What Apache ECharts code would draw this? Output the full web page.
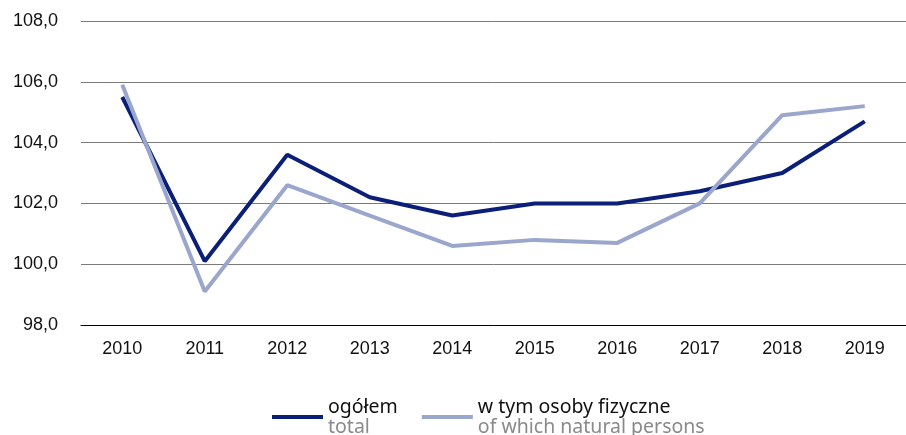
<!DOCTYPE html>
<html><head><meta charset="utf-8">
<script src="https://cdn.jsdelivr.net/npm/echarts@6/dist/echarts.min.js"></script>
<style>html,body{margin:0;padding:0;background:#fff}#c{width:906px;height:435px}</style>
</head><body><div id="c"></div>
<script>
const years = ['2010','2011','2012','2013','2014','2015','2016','2017','2018','2019'];
const total = [105.5, 100.1, 103.6, 102.2, 101.6, 102.0, 102.0, 102.4, 103.0, 104.7];
const naturalPersons = [105.9, 99.1, 102.6, 101.6, 100.6, 100.8, 100.7, 102.0, 104.9, 105.2];
const legendPl = ['ogółem', 'w tym osoby fizyczne'];
const legendEn = ['total', 'of which natural persons'];

const chart = echarts.init(document.getElementById('c'), null, {renderer:'canvas'});
chart.setOption({
  animation:false,
  grid:{left:81, top:21, width:833, height:304, containLabel:false},
  xAxis:{type:'category', data:years, boundaryGap:true,
    axisLine:{show:true, lineStyle:{color:'#000', width:1}},
    axisTick:{show:false},
    axisLabel:{color:'#111', fontSize:18, fontFamily:'Liberation Sans, Arial, sans-serif', margin:15}},
  yAxis:{type:'value', min:98, max:108, interval:2,
    axisLine:{show:false}, axisTick:{show:false},
    splitLine:{lineStyle:{color:'#7a7a7a', width:1}},
    axisLabel:{color:'#111', fontSize:18, fontFamily:'Liberation Sans, Arial, sans-serif', margin:23,
      formatter:v=>v.toFixed(1).replace('.',',')}},
  legend:{top:397, left:272, padding:0, itemWidth:51, itemHeight:4, itemGap:24,
    icon:'rect',
    data:legendPl,
    formatter:name=>{const i=legendPl.indexOf(name);return '{a|'+name+'}\n{b|'+legendEn[i]+'}';},
    textStyle:{rich:{
      a:{fontSize:19.5, color:'#111', fontFamily:'Noto Sans, sans-serif', lineHeight:20},
      b:{fontSize:19.5, color:'#8a8a8a', fontFamily:'Noto Sans, sans-serif', lineHeight:20}}}},
  series:[
    {name:legendPl[0], type:'line', data:total, symbol:'none', color:'#0b1f78',
      lineStyle:{color:'#0b1f78', width:4}},
    {name:legendPl[1], type:'line', data:naturalPersons, symbol:'none', color:'#9aa6cb',
      lineStyle:{color:'#9aa6cb', width:4}}
  ]
});
</script></body></html>
